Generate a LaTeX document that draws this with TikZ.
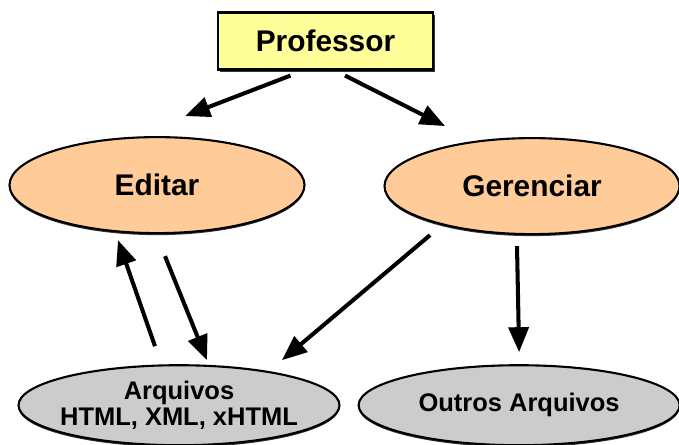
\documentclass[tikz,border=0pt]{standalone}
\usepackage{fontspec}
\setmainfont{Liberation Sans}
\usepackage{xcolor}
\usetikzlibrary{positioning, arrows.meta, shapes.geometric, shadows}
\definecolor{profYellow}{HTML}{FFFF99}
\definecolor{taskPeach}{HTML}{FFCC99}
\definecolor{fileGray}{HTML}{CCCCCC}
\tikzset{
    actor/.style={rectangle, draw=black, line width=1.2pt, fill=profYellow, minimum width=4.3cm, minimum height=1.14cm, drop shadow={shadow xshift=0.03cm, shadow yshift=-0.04cm, fill=black!80, opacity=1}, font=\fontsize{17}{20}\selectfont\bfseries},
    task/.style={ellipse, draw=black, line width=1.2pt, fill=taskPeach, inner sep=0pt, minimum width=5.9cm, minimum height=1.92cm, drop shadow={shadow xshift=0cm, shadow yshift=-0.04cm, fill=black!80, opacity=1}, font=\fontsize{17}{20}\selectfont\bfseries},
    files/.style={ellipse, draw=black, line width=1.2pt, fill=fileGray, inner xsep=-0.6cm, inner ysep=0pt, align=center, minimum width=6.42cm, minimum height=1.6cm, drop shadow={shadow xshift=0cm, shadow yshift=-0.04cm, fill=black!80, opacity=1}, font=\fontsize{14.5}{15}\selectfont\bfseries},
    arrow/.style={-{Triangle[length=0.5cm, width=0.4cm]}, line width=2.3pt}
}
\begin{document}
\begin{tikzpicture}
        \useasboundingbox (0,0) rectangle (13.58,8.88);
        \node[actor] (Prof) at (6.51,8.06) {Professor};
        
        % the two tasks
        \node[task, below=1.31cm of Prof, xshift=-3.37cm] (Edit) {Editar};
        \node[task, below=1.33cm of Prof, xshift=4.13cm] (Ger) {Gerenciar};
        
        % files
        \node[files, below=2.6cm of Edit, xshift=0.44cm] (Arq) {Arquivos\\HTML, XML, xHTML};
        \node[files, right=0.34cm of Arq] (Outros) {Outros Arquivos};
        
        % Professor chooses a task
        \draw[arrow] ([xshift=-0.7cm, yshift=-0.1cm]Prof.south) -- ([xshift=0.56cm, yshift=0.4cm]Edit.north);
        \draw[arrow] ([xshift=0.39cm, yshift=-0.1cm]Prof.south) -- ([xshift=-1.74cm, yshift=0.22cm]Ger.north);
        
        % editing reads and writes the files
        \draw[arrow] ([xshift=-0.48cm, yshift=0.36cm]Arq.north) -- ([xshift=-0.78cm, yshift=-0.12cm]Edit.south);
        \draw[arrow] ([xshift=0.16cm, yshift=-0.44cm]Edit.south) -- ([xshift=0.56cm, yshift=0.08cm]Arq.north);
        
        % managing
        \draw[arrow] ([xshift=-2.04cm]Ger.south) -- ([xshift=2.06cm, yshift=0.08cm]Arq.north);
        \draw[arrow] ([xshift=-0.3cm, yshift=-0.22cm]Ger.south) -- ([yshift=0.24cm]Outros.north);
        
    \end{tikzpicture}
\end{document}
